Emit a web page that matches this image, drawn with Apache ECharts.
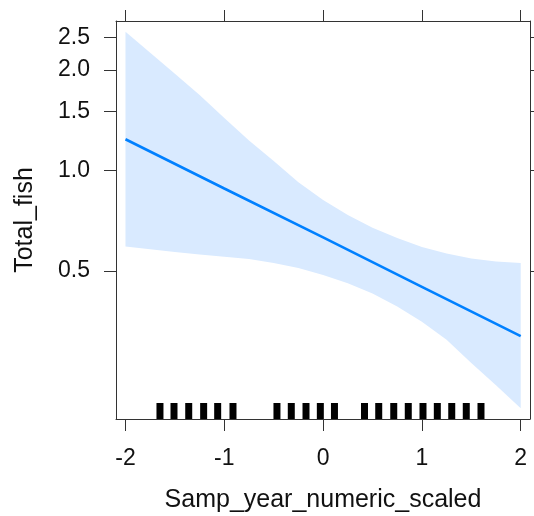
<!DOCTYPE html>
<html>
<head>
<meta charset="utf-8">
<script src="https://cdn.jsdelivr.net/npm/echarts@6/dist/echarts.min.js"></script>
<style>
html,body{margin:0;padding:0;background:#fff;}
#chart{width:534px;height:516px;}
</style>
</head>
<body>
<div id="chart"></div>
<script>
// Fitted effect line (response scale)
const lineX = [-2, -1, 0, 1, 2];
const lineY = [1.240, 0.883, 0.630, 0.448, 0.319];
// Confidence band (response scale)
const bandX = [-2, -1.75, -1.5, -1.25, -1, -0.75, -0.5, -0.25, 0, 0.25, 0.5, 0.75, 1, 1.25, 1.5, 1.75, 2];
const bandUpper = [2.604, 2.253, 1.950, 1.683, 1.436, 1.230, 1.068, 0.921, 0.815, 0.736, 0.673, 0.628, 0.590, 0.564, 0.545, 0.534, 0.528];
const bandLower = [0.592, 0.581, 0.570, 0.560, 0.551, 0.543, 0.528, 0.510, 0.486, 0.459, 0.428, 0.391, 0.352, 0.311, 0.265, 0.227, 0.194];
// Rug (distinct observed x values)
const rugX = [-1.651, -1.509, -1.360, -1.209, -1.067, -0.912,
  -0.467, -0.322, -0.173, -0.028, 0.115,
  0.419, 0.563, 0.715, 0.862, 1.011, 1.156, 1.302, 1.449, 1.598];
// Tick labels
const xTicks = [-2, -1, 0, 1, 2];
const yTicks = [0.5, 1.0, 1.5, 2.0, 2.5];
const yRange = [0.180, 2.804];
const xRange = [-2.096, 2.094];
const xTitle = 'Samp_year_numeric_scaled';
const yTitle = 'Total_fish';

const L = Math.log;
const font = 'Liberation Sans, Arial, sans-serif';
const axisCol = '#333';
const txtCol = '#111';

const chart = echarts.init(document.getElementById('chart'), null, {renderer: 'canvas'});

const bandData = bandX.map((x, i) => [x, L(bandLower[i]), L(bandUpper[i])]);
const lineData = lineX.map((x, i) => [x, L(lineY[i])]);
const yTickLog = yTicks.map(v => L(v));

function xAxisBase(pos) {
  return {
    type: 'value', position: pos, min: xRange[0], max: xRange[1],
    splitLine: {show: false},
    axisLine: {show: true, onZero: false, lineStyle: {color: axisCol, width: 1}},
  };
}
function yAxisBase(pos) {
  return {
    type: 'value', position: pos, min: L(yRange[0]), max: L(yRange[1]),
    splitLine: {show: false},
    axisLine: {show: true, onZero: false, lineStyle: {color: axisCol, width: 1}},
  };
}

const option = {
  animation: false,
  backgroundColor: '#fff',
  grid: {left: 116, right: 4, top: 21, bottom: 97, outerBoundsMode: 'none', containLabel: false},
  xAxis: [
    Object.assign(xAxisBase('bottom'), {
      axisTick: {show: true, inside: false, length: 12, customValues: xTicks, lineStyle: {color: axisCol}},
      axisLabel: {show: true, customValues: xTicks, margin: 28, fontSize: 23, color: txtCol, fontFamily: font,
        formatter: v => String(Math.round(v))},
      name: xTitle, nameLocation: 'middle', nameGap: 69,
      nameTextStyle: {fontSize: 25, color: txtCol, fontFamily: font}
    }),
    Object.assign(xAxisBase('top'), {
      axisTick: {show: true, inside: false, length: 11, customValues: xTicks, lineStyle: {color: axisCol}},
      axisLabel: {show: false}
    })
  ],
  yAxis: [
    Object.assign(yAxisBase('left'), {
      axisTick: {show: true, inside: false, length: 12, customValues: yTickLog, lineStyle: {color: axisCol}},
      axisLabel: {show: true, customValues: yTickLog, margin: 26, fontSize: 23, color: txtCol, fontFamily: font,
        formatter: v => Math.exp(v).toFixed(1)},
      name: yTitle, nameLocation: 'middle', nameGap: 78, nameRotate: 90,
      nameTextStyle: {fontSize: 25, color: txtCol, fontFamily: font}
    }),
    Object.assign(yAxisBase('right'), {
      axisTick: {show: true, inside: false, length: 6, customValues: yTickLog, lineStyle: {color: axisCol}},
      axisLabel: {show: false}
    })
  ],
  series: [
    {
      type: 'custom', z: 1, silent: true,
      data: bandData,
      encode: {x: 0, y: [1, 2]},
      renderItem: function (params, api) {
        if (params.dataIndex !== 0) return null;
        const upperPts = bandData.map(d => api.coord([d[0], d[2]]));
        const lowerPts = bandData.map(d => api.coord([d[0], d[1]])).reverse();
        return {
          type: 'polygon',
          shape: {points: upperPts.concat(lowerPts), smooth: 0},
          style: {fill: '#d9eaff', stroke: null}
        };
      }
    },
    {
      type: 'line', data: lineData, symbol: 'none',
      lineStyle: {color: '#0080ff', width: 2.6}, z: 3
    },
    {
      type: 'custom', z: 4,
      data: rugX.map(v => [v]),
      encode: {x: 0},
      renderItem: function (params, api) {
        const px = api.coord([api.value(0), L(yRange[0])])[0];
        const cs = params.coordSys;
        const bottom = cs.y + cs.height;
        return {
          type: 'rect',
          shape: {x: px - 3.5, y: bottom - 16, width: 7, height: 16},
          style: {fill: '#000'}
        };
      }
    }
  ]
};
chart.setOption(option);
</script>
</body>
</html>
